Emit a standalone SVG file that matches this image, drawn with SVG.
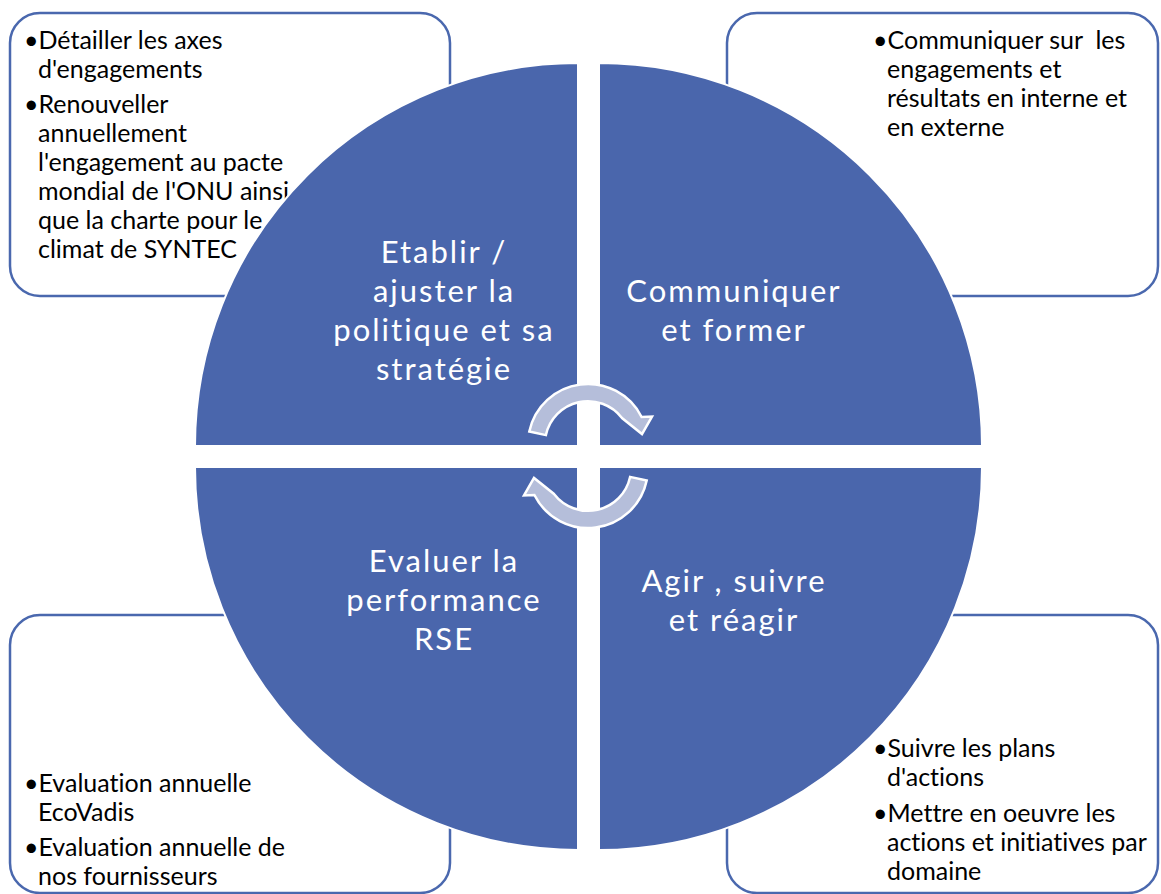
<svg xmlns="http://www.w3.org/2000/svg" width="1161" height="894" viewBox="0 0 1161 894">
<style>
.box{fill:#fff;stroke:#4A68AE;stroke-width:2.5}
.quad{fill:#4A66AC;stroke:#fff;stroke-width:2}
.qt{font-family:Lato,"Noto Sans",sans-serif;font-size:31px;letter-spacing:2px;fill:#fff;text-anchor:middle;font-variant-ligatures:none}
.bt{font-family:Lato,"Liberation Sans",sans-serif;font-size:25px;fill:#000;font-variant-ligatures:none}
.arr{fill:#B5BEDA;stroke:#fff;stroke-width:2.5;stroke-linejoin:miter}
</style>
<defs>
<path id="carrow" d="M529.3,431.5 A60,60 0 0 1 641.6,417 L652,416.5 L642,434 L622,418 A43,43 0 0 0 545.9,435.1 Z"/>
</defs>
<g id="box-tl">
<rect class="box" x="10" y="13" width="440" height="283" rx="30"/>
<text class="bt"><tspan x="24" y="49">•Détailler les axes</tspan><tspan x="38" y="78">d'engagements</tspan><tspan x="24" y="113">•Renouveller</tspan><tspan x="38" y="142">annuellement</tspan><tspan x="38" y="171">l'engagement au pacte</tspan><tspan x="38" y="200">mondial de l'ONU ainsi</tspan><tspan x="38" y="229">que la charte pour le</tspan><tspan x="38" y="258">climat de SYNTEC</tspan></text>
</g>
<g id="box-tr">
<rect class="box" x="727" y="13" width="431" height="283" rx="30"/>
<text class="bt"><tspan x="873" y="49">•Communiquer sur&#160; les</tspan><tspan x="887" y="78">engagements et</tspan><tspan x="887" y="107">résultats en interne et</tspan><tspan x="887" y="136">en externe</tspan></text>
</g>
<g id="box-bl">
<rect class="box" x="10" y="615" width="440" height="278" rx="30"/>
<text class="bt"><tspan x="24" y="792">•Evaluation annuelle</tspan><tspan x="38" y="821">EcoVadis</tspan><tspan x="24" y="856">•Evaluation annuelle de</tspan><tspan x="38" y="885">nos fournisseurs</tspan></text>
</g>
<g id="box-br">
<rect class="box" x="727" y="615" width="431" height="278" rx="30"/>
<text class="bt"><tspan x="873" y="757">•Suivre les plans</tspan><tspan x="887" y="786">d'actions</tspan><tspan x="873" y="822">•Mettre en oeuvre les</tspan><tspan x="887" y="851">actions et initiatives par</tspan><tspan x="887" y="880">domaine</tspan></text>
</g>
<g id="quad-tl">
<path class="quad" d="M578,446 L195,446 A383,383 0 0 1 578,63 Z"/>
<text class="qt"><tspan x="444" y="263">Etablir /</tspan><tspan x="444" y="302">ajuster la</tspan><tspan x="444" y="341">politique et sa</tspan><tspan x="444" y="380">stratégie</tspan></text>
</g>
<g id="quad-tr">
<path class="quad" d="M599,446 L599,63 A383,383 0 0 1 982,446 Z"/>
<text class="qt"><tspan x="734" y="302">Communiquer</tspan><tspan x="734" y="341">et former</tspan></text>
</g>
<g id="quad-bl">
<path class="quad" d="M578,467 L578,850 A383,383 0 0 1 195,467 Z"/>
<text class="qt"><tspan x="444" y="572">Evaluer la</tspan><tspan x="444" y="611">performance</tspan><tspan x="444" y="650">RSE</tspan></text>
</g>
<g id="quad-br">
<path class="quad" d="M599,467 L982,467 A383,383 0 0 1 599,850 Z"/>
<text class="qt"><tspan x="734" y="592">Agir , suivre</tspan><tspan x="734" y="631">et réagir</tspan></text>
</g>
<g id="connectors">
<use href="#carrow" class="arr"/>
<use href="#carrow" class="arr" transform="rotate(180 588 456)"/>
</g>
</svg>
